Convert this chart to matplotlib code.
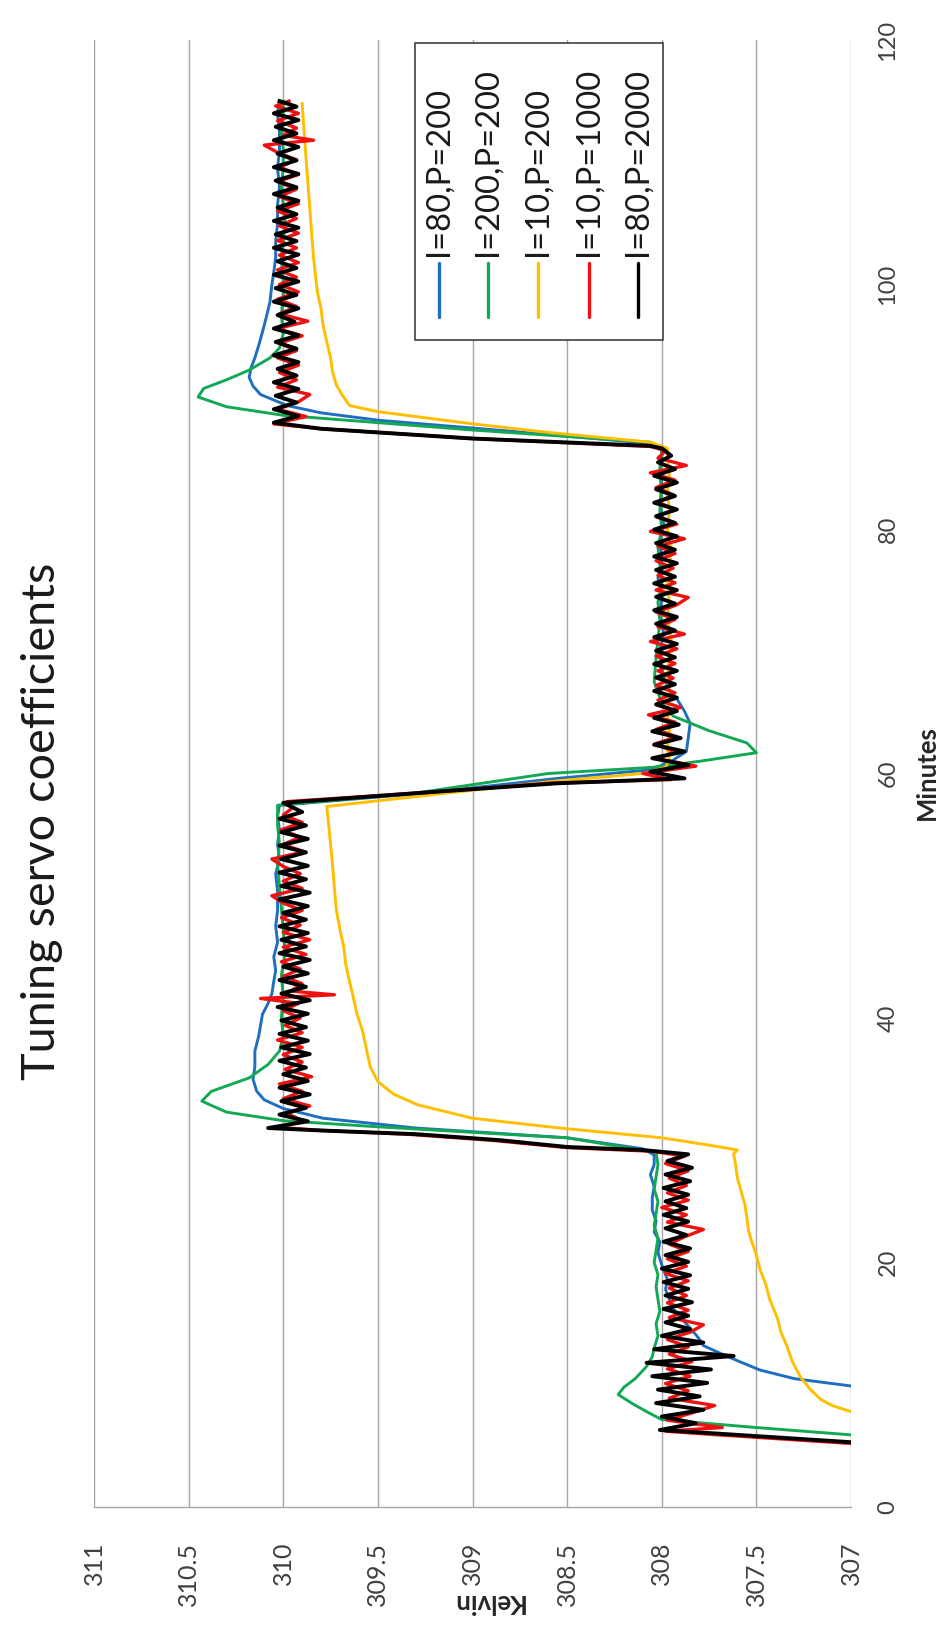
import matplotlib
matplotlib.use("Agg")
import matplotlib.pyplot as plt
from matplotlib.lines import Line2D
from matplotlib.patches import Rectangle

plt.rcParams['font.family'] = ['Lato', 'DejaVu Sans']

# ---------------- data: time in minutes, temperature in kelvin ----------------
series_labels = ["I=80,P=200", "I=200,P=200", "I=10,P=200", "I=10,P=1000", "I=80,P=2000"]
series_colors = ["#1f6fc0", "#12a854", "#ffbf00", "#ee1111", "#000000"]

blue_t = [9.2, 9.9, 10.5, 11.2, 11.9, 12.5, 13.2, 13.7, 14.1, 14.8,
          15.5, 16.2, 17.0, 17.8, 18.6, 19.8, 20.8, 21.7, 22.5, 23.4,
          24.3, 25.3, 26.2, 27.2, 28.0, 28.8, 29.3, 30.2, 31.0, 31.8,
          32.6, 33.3, 34.0, 35.0, 36.0, 37.3, 38.5, 39.4, 40.3, 41.2,
          42.0, 43.0, 43.9, 45.0, 46.2, 47.5, 48.8, 50.4, 51.8, 53.0,
          54.2, 55.4, 56.5, 57.4, 58.4, 59.6, 60.3, 61.0, 61.8, 62.9,
          64.1, 65.1, 66.1, 66.6, 67.5, 68.5, 70.0, 71.5, 73.0, 74.5,
          76.0, 77.5, 79.0, 80.5, 82.0, 83.5, 85.0, 86.0, 86.6, 87.0,
          88.0, 88.9, 89.5, 90.1, 91.0, 91.7, 92.4, 93.2, 94.0, 95.0,
          96.1, 97.3, 98.6, 100.0, 101.0, 102.2, 103.5, 105.0, 106.5, 108.0,
          109.5, 111.0, 112.5, 114.0, 115.0]
blue_k = [306.8, 307.0, 307.3, 307.48, 307.59, 307.68, 307.78, 307.8, 307.82, 307.86,
          307.9, 307.94, 307.96, 307.98, 307.97, 308.0, 308.02, 308.01, 308.04, 308.03,
          308.05, 308.05, 308.04, 308.06, 308.04, 308.04, 308.1, 308.5, 309.3, 309.79,
          310.0, 310.1, 310.14, 310.16, 310.15, 310.15, 310.13, 310.12, 310.11, 310.08,
          310.06, 310.05, 310.04, 310.05, 310.03, 310.04, 310.03, 310.03, 310.04, 310.02,
          310.03, 310.02, 310.03, 310.02, 309.25, 308.55, 308.06, 307.95, 307.87, 307.86,
          307.85, 307.88, 307.92, 307.95, 307.98, 308.0, 308.01, 307.99, 308.01, 308.0,
          308.02, 308.0, 308.01, 307.99, 308.01, 308.0, 308.01, 308.0, 308.0, 308.06,
          308.8, 309.5, 309.8, 309.98, 310.12, 310.16, 310.18, 310.17, 310.15, 310.13,
          310.11, 310.09, 310.07, 310.06, 310.05, 310.04, 310.04, 310.03, 310.03, 310.02,
          310.03, 310.02, 310.02, 310.03, 310.02]

green_t = [5.3, 5.9, 6.5, 7.15, 7.8, 8.5, 9.2, 9.8, 10.5, 11.5,
           12.3, 13.0, 14.0, 15.0, 16.0, 17.0, 18.0, 19.0, 20.0, 21.0,
           22.0, 23.0, 24.0, 25.0, 26.0, 27.0, 28.0, 29.0, 30.2, 31.1,
           31.6, 32.3, 33.2, 34.0, 35.1, 36.2, 37.3, 38.5, 40.0, 41.7,
           43.5, 45.3, 47.2, 49.0, 50.8, 52.6, 54.2, 55.8, 57.4, 58.4,
           60.0, 60.5, 61.0, 61.7, 62.5, 63.5, 64.7, 65.8, 67.5, 69.5,
           71.0, 72.5, 74.0, 75.5, 77.0, 78.5, 80.0, 81.5, 83.0, 84.5,
           86.0, 86.6, 87.1, 88.1, 88.7, 89.3, 90.0, 90.8, 91.5, 92.2,
           93.0, 94.0, 94.8, 96.0, 97.5, 99.0, 100.5, 102.0, 103.5, 105.0,
           106.5, 108.0, 109.5, 111.0, 112.5, 114.0, 115.0]
green_k = [306.5, 307.0, 307.5, 308.0, 308.08, 308.16, 308.23, 308.2, 308.14, 308.08,
           308.05, 308.04, 308.02, 308.03, 308.01, 308.02, 308.03, 308.02, 308.04, 308.03,
           308.02, 308.04, 308.03, 308.02, 308.04, 308.03, 308.02, 308.03, 308.5, 309.5,
           310.0, 310.3, 310.43, 310.38, 310.18, 310.08, 310.02, 310.0, 310.01, 310.0,
           310.01, 309.99, 310.0, 310.01, 310.02, 310.03, 310.02, 310.03, 310.03, 309.3,
           308.6, 308.05, 307.8, 307.5, 307.55, 307.75, 307.94, 308.0, 308.04, 308.03,
           308.02, 308.01, 308.02, 308.0, 308.01, 308.02, 308.0, 308.01, 308.0, 308.01,
           308.0, 308.0, 308.06, 309.0, 309.5, 310.0, 310.3, 310.45, 310.42, 310.3,
           310.18, 310.07, 310.02, 310.0, 310.01, 310.0, 310.0, 310.01, 310.0, 309.99,
           310.0, 310.01, 310.0, 310.0, 310.01, 310.0, 310.0]

yellow_t = [7.3, 7.8, 8.3, 8.8, 9.7, 10.7, 11.9, 13.2, 14.3, 15.5,
            17.0, 18.2, 19.4, 20.6, 21.5, 22.5, 23.6, 24.7, 25.8, 26.9,
            28.0, 28.9, 29.2, 29.6, 30.2, 31.0, 31.8, 32.9, 33.8, 34.8,
            36.0, 37.4, 38.9, 40.3, 41.7, 43.0, 44.4, 45.8, 47.2, 48.9,
            50.7, 52.6, 54.2, 55.8, 57.3, 58.2, 59.4, 60.0, 60.5, 61.2,
            62.0, 63.5, 65.0, 66.5, 68.0, 69.5, 71.0, 72.5, 74.0, 75.5,
            77.0, 78.5, 80.0, 81.5, 83.0, 84.5, 86.0, 86.6, 87.1, 87.9,
            88.6, 89.6, 90.1, 91.0, 91.8, 92.9, 94.0, 95.3, 96.7, 98.0,
            99.4, 100.8, 102.2, 104.2, 106.3, 108.4, 110.4, 112.6, 114.8]
yellow_k = [306.9, 307.0, 307.1, 307.16, 307.22, 307.27, 307.31, 307.34, 307.37, 307.39,
            307.43, 307.45, 307.48, 307.5, 307.52, 307.54, 307.55, 307.56, 307.58, 307.6,
            307.61, 307.62, 307.6, 307.75, 308.0, 308.54, 309.0, 309.29, 309.42, 309.5,
            309.54, 309.56, 309.58, 309.61, 309.63, 309.65, 309.67, 309.68, 309.7, 309.72,
            309.73, 309.74, 309.75, 309.76, 309.77, 309.25, 308.55, 308.1, 307.98, 307.96,
            307.97, 307.96, 307.97, 307.96, 307.97, 307.96, 307.95, 307.97, 307.96, 307.97,
            307.96, 307.95, 307.97, 307.96, 307.97, 307.96, 307.97, 307.97, 308.06, 308.6,
            309.0, 309.5, 309.65, 309.69, 309.72, 309.74, 309.75, 309.77, 309.79, 309.8,
            309.82, 309.83, 309.84, 309.85, 309.86, 309.87, 309.88, 309.89, 309.9]

red_t = [4.6, 5.2, 5.9, 6.2,
         6.5, 7.1, 7.7, 8.3, 8.9, 9.5, 10.1, 10.7, 11.3, 11.9,
         12.5, 13.1, 13.7, 14.3, 14.9, 15.5, 16.1, 16.7, 17.3, 17.9,
         18.5, 19.1, 19.7, 20.3, 20.9, 21.5, 22.1, 22.7, 23.3, 23.9,
         24.5, 25.1, 25.7, 26.3, 26.9, 27.5, 28.1, 28.7,
         29.1, 29.4, 30.0, 30.5, 30.8, 31.05,
         31.6, 32.2, 32.8, 33.4, 34.0, 34.6, 35.2, 35.8, 36.4, 37.0,
         37.6, 38.2, 38.8, 39.4, 40.0, 40.6, 41.2, 41.6, 41.9, 42.2,
         42.8, 43.4, 44.0, 44.6, 45.2, 45.8, 46.4, 47.0, 47.6, 48.2,
         48.8, 49.4, 50.0, 50.6, 51.2, 51.8, 52.4, 53.0, 53.6, 54.2,
         54.8, 55.4, 56.0, 56.6, 57.2,
         57.7, 58.5, 59.2, 59.5,
         60.0, 60.6, 61.2, 61.8, 62.4, 63.0, 63.6, 64.2, 64.8, 65.4,
         66.0, 66.6, 67.2, 67.8, 68.4, 69.0, 69.6, 70.2, 70.8, 71.4,
         72.0, 72.6, 73.2, 73.8, 74.4, 75.0, 75.6, 76.2, 76.8, 77.4,
         78.0, 78.6, 79.2, 79.8, 80.4, 81.0, 81.6, 82.2, 82.8, 83.4,
         84.0, 84.6, 85.2, 85.8, 86.4,
         86.75, 87.4, 88.2, 88.6,
         89.2, 89.8, 90.4, 91.0, 91.6, 92.2, 92.8, 93.4, 94.0, 94.6,
         95.2, 95.8, 96.4, 97.0, 97.6, 98.2, 98.8, 99.4, 100.0, 100.6,
         101.2, 101.8, 102.4, 103.0, 103.6, 104.2, 104.8, 105.4, 106.0, 106.6,
         107.2, 107.8, 108.4, 109.0, 109.6, 110.2, 110.8, 111.4, 111.8, 112.2,
         112.8, 113.4, 114.0, 114.6, 115.0]
red_k = [306.4, 307.0, 307.7, 307.98,
         307.68, 307.97, 307.84, 307.72, 307.96, 307.86, 307.98, 307.85, 307.97, 307.84,
         307.96, 307.86, 307.97, 307.85, 307.78, 307.96, 307.86, 307.97, 307.87, 307.96,
         307.86, 307.98, 307.87, 307.97, 307.86, 307.96, 307.88, 307.78, 307.97, 307.87,
         308.0, 307.86, 307.97, 307.87, 307.96, 307.86, 307.98, 307.88,
         308.05, 308.5, 308.9, 309.35, 309.8, 310.02,
         309.9, 309.98, 309.86, 310.0, 309.9, 310.02, 309.85, 309.99, 309.9, 310.0,
         309.9, 310.03, 309.9, 309.99, 309.91, 310.0, 309.92, 310.12, 309.73, 309.96,
         309.9, 310.0, 309.91, 310.01, 309.88, 310.0, 309.86, 310.0, 309.91, 310.01,
         309.9, 310.0, 310.06, 309.9, 310.0, 309.91, 310.0, 310.06, 309.89, 310.0,
         309.91, 310.01, 309.9, 310.0, 309.95,
         309.98, 309.2, 308.6, 307.95,
         308.1, 307.82, 308.02, 307.93, 308.04, 307.92, 308.03, 307.93, 308.07, 307.9,
         308.02, 307.93, 308.03, 307.94, 308.02, 307.93, 308.03, 307.92, 308.06, 307.88,
         308.02, 307.93, 308.03, 307.92, 307.86, 308.03, 307.93, 308.02, 307.94, 308.03,
         307.93, 308.02, 307.88, 308.06, 307.92, 308.03, 307.93, 308.02, 307.94, 308.03,
         307.93, 308.06, 307.87, 308.02, 307.98,
         308.06, 309.0, 309.8, 310.05,
         309.88, 310.03, 309.92, 309.86, 310.03, 309.93, 310.02, 309.92, 310.03, 309.93,
         310.02, 309.9, 310.03, 309.87, 310.02, 309.93, 310.03, 309.92, 310.02, 309.93,
         310.03, 309.92, 310.02, 309.93, 310.03, 309.92, 310.02, 309.93, 310.03, 309.92,
         310.02, 309.93, 310.03, 309.92, 310.02, 309.93, 310.03, 310.1, 309.84, 310.0,
         309.93, 310.03, 309.92, 310.04, 309.97]

black_t = [4.7, 5.3, 6.0, 6.3,
           6.85, 7.4, 7.95, 8.5, 9.05, 9.6, 10.15, 10.7, 11.25, 11.8,
           12.35, 12.9, 13.45, 14.0, 14.55, 15.1, 15.65, 16.2, 16.75, 17.3,
           17.85, 18.4, 18.95, 19.5, 20.05, 20.6, 21.15, 21.7, 22.25, 22.8,
           23.35, 23.9, 24.45, 25.0, 25.55, 26.1, 26.65, 27.2, 27.75, 28.3, 28.85,
           29.2, 29.45, 30.0, 30.5, 30.8, 31.0,
           31.55, 32.1, 32.65, 33.2, 33.75, 34.3, 34.85, 35.4, 35.95, 36.5,
           37.05, 37.6, 38.15, 38.7, 39.25, 39.8, 40.35, 40.9, 41.45, 42.0,
           42.55, 43.1, 43.65, 44.2, 44.75, 45.3, 45.85, 46.4, 46.95, 47.5,
           48.05, 48.6, 49.15, 49.7, 50.25, 50.8, 51.35, 51.9, 52.45, 53.0,
           53.55, 54.1, 54.65, 55.2, 55.75, 56.3, 56.85,
           57.6, 58.5, 59.2, 59.6,
           60.15, 60.7, 61.25, 61.8, 62.35, 62.9, 63.45, 64.0, 64.55, 65.1,
           65.65, 66.2, 66.75, 67.3, 67.85, 68.4, 68.95, 69.5, 70.05, 70.6,
           71.15, 71.7, 72.25, 72.8, 73.35, 73.9, 74.45, 75.0, 75.55, 76.1,
           76.65, 77.2, 77.75, 78.3, 78.85, 79.4, 79.95, 80.5, 81.05, 81.6,
           82.15, 82.7, 83.25, 83.8, 84.35, 84.9, 85.45, 86.0,
           86.6, 86.8, 87.4, 88.2, 88.7,
           89.25, 89.8, 90.35, 90.9, 91.45, 92.0, 92.55, 93.1, 93.65, 94.2,
           94.75, 95.3, 95.85, 96.4, 96.95, 97.5, 98.05, 98.6, 99.15, 99.7,
           100.25, 100.8, 101.35, 101.9, 102.45, 103.0, 103.55, 104.1, 104.65, 105.2,
           105.75, 106.3, 106.85, 107.4, 107.95, 108.5, 109.05, 109.6, 110.15, 110.7,
           111.25, 111.8, 112.35, 112.9, 113.45, 114.0, 114.55, 115.0]
black_k = [306.4, 307.0, 307.7, 308.01,
           307.82, 308.0, 307.78, 308.03, 307.8, 308.02, 307.76, 308.05, 307.74, 308.08,
           307.62, 308.04, 307.78, 308.0, 307.85, 307.98, 307.86, 307.99, 307.84, 307.98,
           307.86, 307.99, 307.85, 308.0, 307.86, 307.98, 307.85, 307.99, 307.87, 307.98,
           307.86, 307.99, 307.87, 307.98, 307.86, 307.99, 307.85, 307.98, 307.84, 307.97, 307.86,
           308.1, 308.5, 308.85, 309.3, 309.8, 310.08,
           309.87, 310.02, 309.88, 310.01, 309.86, 310.02, 309.87, 310.0, 309.88, 310.02,
           309.86, 310.01, 309.87, 310.02, 309.88, 310.01, 309.87, 310.03, 309.86, 310.01,
           309.88, 310.02, 309.87, 310.0, 309.86, 310.02, 309.88, 310.01, 309.87, 310.02,
           309.88, 310.0, 309.87, 310.02, 309.86, 310.01, 309.88, 310.02, 309.87, 310.01,
           309.88, 310.02, 309.87, 310.01, 309.88, 310.02, 309.9,
           310.0, 309.2, 308.55, 307.88,
           308.06, 307.86, 308.05, 307.88, 308.04, 307.9, 308.05, 307.91, 308.04, 307.92,
           308.03, 307.92, 308.04, 307.93, 308.03, 307.92, 308.04, 307.93, 308.03, 307.92,
           308.04, 307.93, 308.03, 307.92, 308.04, 307.93, 308.03, 307.92, 308.04, 307.93,
           308.03, 307.92, 308.04, 307.93, 308.03, 307.92, 308.04, 307.93, 308.03, 307.92,
           308.04, 307.93, 308.03, 307.92, 308.04, 307.93, 308.02, 307.95,
           308.0, 308.06, 309.0, 309.8, 310.05,
           309.92, 310.05, 309.93, 310.04, 309.92, 310.05, 309.93, 310.03, 309.92, 310.05,
           309.93, 310.04, 309.92, 310.05, 309.94, 310.03, 309.92, 310.05, 309.93, 310.04,
           309.92, 310.05, 309.93, 310.03, 309.92, 310.05, 309.93, 310.04, 309.92, 310.05,
           309.93, 310.03, 309.92, 310.05, 309.93, 310.04, 309.92, 310.05, 309.93, 310.03,
           309.92, 310.05, 309.93, 310.04, 309.92, 310.05, 309.93, 310.02]

kelvin_ticks = [311, 310.5, 310, 309.5, 309, 308.5, 308, 307.5, 307]
kelvin_tick_labels = ["311", "310.5", "310", "309.5", "309", "308.5", "308", "307.5", "307"]
minute_ticks = [0, 20, 40, 60, 80, 100, 120]
minute_tick_labels = ["0", "20", "40", "60", "80", "100", "120"]

series = [(blue_t, blue_k), (green_t, green_k), (yellow_t, yellow_k),
          (red_t, red_k), (black_t, black_k)]
for t, k in series:
    assert len(t) == len(k)

# ---------------- figure (page turned on its side) ----------------
W, H = 941, 1636
fig = plt.figure(figsize=(W / 100, H / 100), dpi=100)


def fx(px):
    return px / W


def fy(py):
    return 1 - py / H


ax = fig.add_axes([fx(94), fy(1507), fx(851) - fx(94), fy(40) - fy(1507)])
ax.set_xlim(311, 307)
ax.set_ylim(0, 120)

widths = [2.1, 2.1, 2.1, 2.4, 2.8]
for (t, k), c, lw, lab in zip(series, series_colors, widths, series_labels):
    ax.plot(k, t, color=c, lw=lw, solid_joinstyle='round', label=lab, zorder=3)

grid_c = "#a6a6a6"
ax.set_xticks(kelvin_ticks)
ax.set_xticklabels(kelvin_tick_labels)
ax.tick_params(axis='x', length=0, pad=25, labelsize=18, labelrotation=90,
               labelcolor="#404040")
ax.grid(axis='x', color=grid_c, lw=1.0)
ax.set_axisbelow(True)

ax.yaxis.tick_right()
ax.set_yticks(minute_ticks)
ax.set_yticklabels(minute_tick_labels)
ax.tick_params(axis='y', length=0, pad=19, labelsize=17, labelrotation=90,
               labelcolor="#404040")
for tk in ax.yaxis.get_major_ticks():
    tk.label2.set_va('center')
    tk.label2.set_ha('left')
    tk.label2.set_rotation_mode('default')

for side in ('top', 'left', 'right'):
    ax.spines[side].set_visible(False)
ax.spines['bottom'].set_color(grid_c)
ax.spines['bottom'].set_linewidth(1.0)

# titles and axis names
fig.text(fx(42), fy(821), "Tuning servo coefficients", rotation=90,
         ha='center', va='center', fontsize=33.7, color="#1a1a1a")
fig.text(fx(488), fy(1602), "Kelvin", rotation=180, ha='center', va='center',
         fontsize=18.5, fontweight='bold', color="#262626")
fig.text(fx(927), fy(773), "Minutes", rotation=90, ha='center', va='center',
         fontsize=18.5, fontweight='bold', color="#262626")

# legend box, drawn by hand in the rotated orientation
fig.add_artist(Rectangle((fx(415), fy(340)), fx(663) - fx(415), fy(43) - fy(340),
                         transform=fig.transFigure, facecolor='white',
                         edgecolor='#404040', lw=1.2, zorder=10))
legend_x = [439, 488, 538, 589, 638]
for x, c, lab in zip(legend_x, series_colors, series_labels):
    fig.add_artist(Line2D([fx(x), fx(x)], [fy(317), fy(263)], transform=fig.transFigure,
                          color=c, lw=2.4, solid_capstyle='round', zorder=11))
    fig.text(fx(x), fy(256), lab, rotation=90, ha='center', va='bottom',
             fontsize=23.5, color="#1a1a1a", zorder=11)

fig.savefig("out.png", dpi=100)
